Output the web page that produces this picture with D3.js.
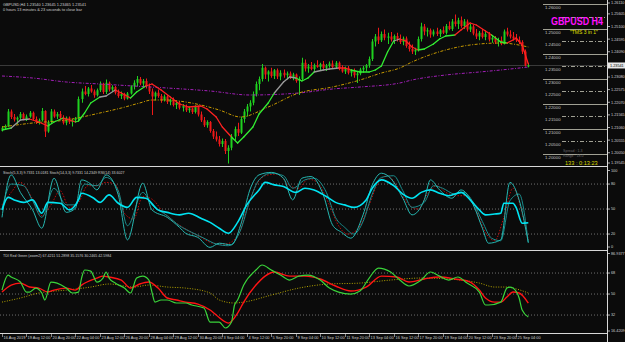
<!DOCTYPE html>
<html><head><meta charset="utf-8">
<script src="https://cdn.jsdelivr.net/npm/d3@7/dist/d3.min.js"></script>
<style>
body{margin:0;background:#0b0b0b;overflow:hidden;}
svg{display:block;font-family:"Liberation Sans",Arial,sans-serif;}
</style></head><body>
<svg id="chart" width="625" height="342"></svg>
<script>
// GBPUSD H4 bars, [open, high, low, close]
const candles = [
[1.2100,1.2112,1.2090,1.2105],[1.2105,1.2118,1.2098,1.2112],[1.2112,1.2180,1.2108,1.2170],[1.2170,1.2178,1.2140,1.2148],
[1.2148,1.2160,1.2130,1.2138],[1.2138,1.2150,1.2120,1.2145],[1.2145,1.2168,1.2140,1.2160],[1.2160,1.2166,1.2135,1.2140],
[1.2140,1.2158,1.2132,1.2150],[1.2150,1.2172,1.2145,1.2165],[1.2165,1.2170,1.2135,1.2140],[1.2140,1.2150,1.2120,1.2128],
[1.2128,1.2142,1.2118,1.2135],[1.2135,1.2184,1.2130,1.2172],[1.2172,1.2175,1.2068,1.2090],[1.2090,1.2135,1.2085,1.2128],
[1.2128,1.2180,1.2122,1.2170],[1.2170,1.2178,1.2145,1.2150],[1.2150,1.2168,1.2140,1.2160],[1.2160,1.2172,1.2140,1.2145],
[1.2145,1.2155,1.2118,1.2125],[1.2125,1.2150,1.2115,1.2145],[1.2145,1.2150,1.2120,1.2128],[1.2128,1.2140,1.2110,1.2135],
[1.2135,1.2148,1.2128,1.2140],[1.2140,1.2230,1.2136,1.2220],[1.2220,1.2262,1.2205,1.2250],[1.2250,1.2272,1.2235,1.2240],
[1.2240,1.2268,1.2230,1.2262],[1.2262,1.2276,1.2245,1.2250],[1.2250,1.2258,1.2225,1.2235],[1.2235,1.2262,1.2230,1.2255],
[1.2255,1.2290,1.2248,1.2280],[1.2280,1.2285,1.2240,1.2248],[1.2248,1.2298,1.2240,1.2285],[1.2285,1.2290,1.2250,1.2258],
[1.2258,1.2275,1.2250,1.2268],[1.2268,1.2272,1.2238,1.2245],[1.2245,1.2258,1.2225,1.2232],[1.2232,1.2250,1.2220,1.2240],
[1.2240,1.2245,1.2215,1.2222],[1.2222,1.2248,1.2218,1.2242],[1.2242,1.2275,1.2238,1.2270],[1.2270,1.2295,1.2258,1.2285],
[1.2285,1.2312,1.2270,1.2300],[1.2300,1.2308,1.2275,1.2282],[1.2282,1.2300,1.2268,1.2292],[1.2292,1.2302,1.2262,1.2270],
[1.2270,1.2282,1.2240,1.2250],[1.2250,1.2262,1.2156,1.2230],[1.2230,1.2250,1.2215,1.2245],[1.2245,1.2258,1.2225,1.2232],
[1.2232,1.2240,1.2205,1.2215],[1.2215,1.2238,1.2210,1.2230],[1.2230,1.2235,1.2200,1.2208],[1.2208,1.2222,1.2195,1.2215],
[1.2215,1.2226,1.2190,1.2196],[1.2196,1.2210,1.2180,1.2205],[1.2205,1.2212,1.2178,1.2185],[1.2185,1.2200,1.2170,1.2192],
[1.2192,1.2198,1.2168,1.2175],[1.2175,1.2190,1.2165,1.2182],[1.2182,1.2186,1.2160,1.2168],[1.2168,1.2195,1.2162,1.2188],
[1.2188,1.2194,1.2150,1.2158],[1.2158,1.2170,1.2128,1.2135],[1.2135,1.2148,1.2108,1.2115],[1.2115,1.2135,1.2105,1.2128],
[1.2128,1.2132,1.2085,1.2092],[1.2092,1.2100,1.2060,1.2070],[1.2070,1.2090,1.2050,1.2058],[1.2058,1.2072,1.2030,1.2040],
[1.2040,1.2062,1.2028,1.2052],[1.2052,1.2060,1.2000,1.2012],[1.2012,1.2035,1.1962,1.2025],[1.2025,1.2080,1.2015,1.2070],
[1.2070,1.2110,1.2055,1.2100],[1.2100,1.2125,1.2072,1.2085],[1.2085,1.2150,1.2080,1.2140],[1.2140,1.2180,1.2125,1.2170],
[1.2170,1.2200,1.2150,1.2190],[1.2190,1.2215,1.2170,1.2205],[1.2205,1.2250,1.2195,1.2240],[1.2240,1.2290,1.2230,1.2280],
[1.2280,1.2310,1.2255,1.2300],[1.2300,1.2360,1.2290,1.2345],[1.2345,1.2350,1.2300,1.2318],[1.2318,1.2335,1.2290,1.2330],
[1.2330,1.2345,1.2305,1.2312],[1.2312,1.2340,1.2300,1.2335],[1.2335,1.2342,1.2300,1.2310],[1.2310,1.2335,1.2295,1.2325],
[1.2325,1.2338,1.2305,1.2315],[1.2315,1.2330,1.2298,1.2322],[1.2322,1.2330,1.2300,1.2308],[1.2308,1.2325,1.2295,1.2318],
[1.2318,1.2322,1.2285,1.2292],[1.2292,1.2310,1.2236,1.2300],[1.2300,1.2385,1.2295,1.2365],[1.2365,1.2378,1.2330,1.2342],
[1.2342,1.2360,1.2325,1.2350],[1.2350,1.2368,1.2335,1.2340],[1.2340,1.2362,1.2330,1.2355],[1.2355,1.2375,1.2345,1.2348],
[1.2348,1.2365,1.2335,1.2360],[1.2360,1.2372,1.2340,1.2345],[1.2345,1.2360,1.2332,1.2352],[1.2352,1.2370,1.2345,1.2362],
[1.2362,1.2374,1.2340,1.2348],[1.2348,1.2372,1.2342,1.2365],[1.2365,1.2370,1.2335,1.2342],[1.2342,1.2355,1.2325,1.2330],
[1.2330,1.2350,1.2320,1.2345],[1.2345,1.2352,1.2318,1.2325],[1.2325,1.2340,1.2310,1.2335],[1.2335,1.2342,1.2305,1.2315],
[1.2315,1.2330,1.2284,1.2322],[1.2322,1.2345,1.2315,1.2338],[1.2338,1.2352,1.2325,1.2345],[1.2345,1.2360,1.2330,1.2355],
[1.2355,1.2390,1.2345,1.2380],[1.2380,1.2460,1.2372,1.2450],[1.2450,1.2480,1.2430,1.2470],[1.2470,1.2505,1.2440,1.2455],
[1.2455,1.2490,1.2448,1.2480],[1.2480,1.2498,1.2455,1.2465],[1.2465,1.2485,1.2440,1.2470],[1.2470,1.2488,1.2450,1.2458],
[1.2458,1.2478,1.2440,1.2472],[1.2472,1.2485,1.2450,1.2460],[1.2460,1.2478,1.2440,1.2448],[1.2448,1.2470,1.2435,1.2462],
[1.2462,1.2470,1.2425,1.2432],[1.2432,1.2450,1.2410,1.2420],[1.2420,1.2438,1.2400,1.2410],[1.2410,1.2425,1.2396,1.2418],
[1.2418,1.2470,1.2410,1.2460],[1.2460,1.2525,1.2450,1.2510],[1.2510,1.2520,1.2475,1.2490],[1.2490,1.2505,1.2470,1.2495],
[1.2495,1.2502,1.2465,1.2478],[1.2478,1.2498,1.2470,1.2490],[1.2490,1.2505,1.2472,1.2480],[1.2480,1.2500,1.2468,1.2495],
[1.2495,1.2510,1.2480,1.2485],[1.2485,1.2520,1.2478,1.2512],[1.2512,1.2530,1.2495,1.2500],[1.2500,1.2540,1.2492,1.2530],
[1.2530,1.2558,1.2510,1.2520],[1.2520,1.2545,1.2500,1.2535],[1.2535,1.2550,1.2505,1.2512],[1.2512,1.2540,1.2500,1.2530],
[1.2530,1.2538,1.2490,1.2498],[1.2498,1.2520,1.2488,1.2510],[1.2510,1.2518,1.2475,1.2482],[1.2482,1.2500,1.2460,1.2470],
[1.2470,1.2492,1.2455,1.2485],[1.2485,1.2500,1.2462,1.2468],[1.2468,1.2490,1.2455,1.2480],[1.2480,1.2488,1.2450,1.2458],
[1.2458,1.2475,1.2445,1.2465],[1.2465,1.2472,1.2440,1.2448],[1.2448,1.2465,1.2430,1.2455],[1.2455,1.2470,1.2435,1.2442],
[1.2442,1.2498,1.2438,1.2490],[1.2490,1.2505,1.2470,1.2478],[1.2478,1.2495,1.2462,1.2470],[1.2470,1.2488,1.2455,1.2462],
[1.2462,1.2480,1.2448,1.2455],[1.2455,1.2470,1.2440,1.2448],[1.2448,1.2455,1.2400,1.2410],[1.2410,1.2418,1.2350,1.2354],
[1.23540,1.23645,1.23465,1.23541]
];

// colored trend MA: [bar, price, g/r/n]
const maTrend = [
[0,1.2096,'g'],[3,1.2104,'g'],[6,1.2136,'n'],[9,1.2140,'n'],[12,1.2128,'r'],[15,1.2112,'r'],[17,1.2128,'g'],[20,1.2144,'g'],
[21,1.2140,'r'],[24,1.2128,'r'],[25,1.2132,'g'],[27,1.2164,'g'],[29,1.2204,'g'],[32,1.2228,'g'],[34,1.2232,'n'],[37,1.2256,'n'],
[39,1.2244,'r'],[42,1.2224,'r'],[44,1.2248,'g'],[47,1.2272,'g'],[49,1.2280,'r'],[52,1.2256,'r'],[55,1.2228,'r'],[58,1.2200,'r'],
[61,1.2188,'r'],[65,1.2192,'r'],[67,1.2180,'r'],[70,1.2148,'r'],[72,1.2108,'r'],[75,1.2068,'r'],[77,1.2044,'g'],[79,1.2068,'g'],
[82,1.2108,'g'],[84,1.2160,'g'],[87,1.2204,'g'],[89,1.2244,'g'],[92,1.2288,'n'],[94,1.2308,'n'],[96,1.2304,'n'],[98,1.2292,'g'],
[100,1.2304,'g'],[102,1.2328,'g'],[105,1.2336,'n'],[107,1.2340,'n'],[110,1.2344,'n'],[112,1.2344,'r'],[114,1.2336,'r'],[117,1.2328,'g'],
[120,1.2328,'g'],[122,1.2336,'g'],[124,1.2352,'g'],[126,1.2408,'g'],[128,1.2452,'g'],[130,1.2460,'n'],[132,1.2452,'r'],[134,1.2428,'r'],
[136,1.2416,'r'],[138,1.2420,'g'],[141,1.2440,'g'],[143,1.2460,'g'],[145,1.2472,'g'],[148,1.2476,'g'],[150,1.2496,'r'],[153,1.2524,'r'],
[155,1.2516,'r'],[158,1.2492,'r'],[160,1.2476,'r'],[163,1.2448,'g'],[165,1.2444,'g'],[167,1.2456,'r'],[168,1.2464,'r'],[170,1.2436,'r'],
[172,1.2360,'r']
];
const maGold = [
[0,1.2108],[10,1.2124],[21,1.2136],[32,1.2164],[39,1.2184],[45,1.2204],[49,1.2216],[54,1.2216],[60,1.2208],[65,1.2196],
[71,1.2176],[78,1.2148],[87,1.2188],[97,1.2244],[108,1.2268],[117,1.2296],[124,1.2324],[130,1.2344],[134,1.2368],[145,1.2416],
[153,1.2436],[163,1.2444],[172,1.2428]
];
const maPurple = [
[0,1.2312],[10,1.2304],[21,1.2288],[32,1.2280],[43,1.2272],[54,1.2264],[68,1.2252],[81,1.2236],[97,1.2244],[108,1.2260],
[117,1.2268],[130,1.2284],[134,1.2296],[145,1.2316],[156,1.2328],[163,1.2336],[172,1.2348]
];
const lastPrice = 1.23541;
const priceTicks = [1.26110,1.25605,1.25100,1.24595,1.24090,1.23080,1.22575,1.22070,1.21565,1.21060,1.20555,1.20050,1.19545];
const roundLevels = [1.260,1.255,1.250,1.245,1.240,1.235,1.230,1.225,1.220,1.215,1.210,1.205,1.200];
const hiddenLevelLabels = [1.255]; // covered by the symbol caption

// stochastic / RSI window: [bar, value]
const stochFast = [
[0,40],[3,91],[6,70],[10,49],[13,27],[17,87],[21,46],[24,51],[26,85],[29,80],[31,73],[34,91],[38,67],[41,13],[46,81],[49,49],
[54,40],[58,28],[60,21],[64,16],[68,4],[71,9],[75,7],[78,31],[81,73],[84,91],[88,94],[92,87],[95,61],[98,87],[101,89],[105,67],
[108,31],[111,22],[114,15],[118,43],[121,79],[124,93],[127,87],[131,63],[134,43],[138,61],[140,85],[143,73],[147,63],[150,73],
[154,55],[157,27],[159,9],[163,13],[166,82],[169,61],[172,9.7]
];
const stochSlow = [
[0,50],[3,80],[7,78],[10,60],[13,40],[17,75],[21,55],[24,55],[27,80],[31,78],[34,88],[38,72],[41,30],[46,70],[49,55],[54,42],
[58,30],[62,22],[66,15],[70,8],[74,6],[78,25],[81,60],[84,85],[88,93],[92,90],[95,75],[99,85],[102,87],[106,70],[109,40],[112,28],
[115,20],[118,35],[121,68],[124,88],[128,90],[131,72],[134,52],[138,58],[141,78],[144,75],[148,68],[151,70],[154,58],[157,35],
[160,15],[163,12],[166,60],[169,68],[172,9.7]
];
const stochSignal = [
[0,55],[3,70],[6,82],[10,62],[13,42],[16,55],[19,72],[22,52],[25,58],[28,78],[31,78],[34,82],[37,80],[40,45],[43,38],[46,65],
[49,62],[53,45],[57,33],[61,24],[65,16],[69,9],[73,8],[77,18],[80,50],[83,78],[86,90],[90,92],[94,78],[97,75],[100,86],[103,82],
[107,55],[110,30],[113,20],[116,25],[120,55],[123,82],[126,90],[129,78],[133,55],[136,50],[139,68],[142,78],[145,70],[149,66],
[152,66],[155,48],[158,22],[161,12],[164,40],[167,75],[170,45],[172,13]
];
const rsi = [
[0,49],[2,64],[4,61],[7,58],[10,61],[13,45],[15,58],[19,57],[22,49],[25,61],[26,69],[30,63],[32,58],[35,67],[38,57],[41,52],
[44,64],[47,63],[51,49],[54,46],[58,43],[61,45],[65,39],[68,34],[71,27],[74,21],[77,34],[80,55],[84,73],[86,82],[89,79],[92,77],
[96,70],[99,75],[102,73],[106,65],[109,58],[112,55],[115,52],[119,61],[121,75],[124,85],[128,78],[131,68],[134,63],[137,70],
[140,73],[143,69],[146,66],[150,70],[153,61],[156,49],[158,43],[161,44],[163,45],[164,57],[167,57],[168,52],[170,33],[172,33.6]
];
const stochLevels = [80,50,20];
const stochTicks = [100,80,50,20,0];

// TDI window: [bar, value]
const tdiGreen = [
[0,53.4],[2,66.3],[3,64.6],[6,60.3],[8,51.7],[9,51.7],[11,55.1],[13,50.9],[14,44.9],[16,60.3],[18,59.4],[21,55.1],[23,50.9],
[25,51.7],[26,63.7],[27,70.6],[29,69.7],[31,60.3],[33,63.7],[34,68.9],[35,63.7],[37,59.4],[40,55.1],[42,50.9],[44,63.7],[46,65.4],
[48,62],[49,51.7],[50,43.1],[52,44.9],[54,44.9],[57,42.3],[60,42.3],[62,40.6],[66,38],[68,26],[71,26],[73,20.9],[75,26],[76,40.6],
[77,44.9],[79,57.7],[83,70.6],[85,74.9],[88,70.6],[91,66.3],[94,62],[97,65.4],[100,66.3],[104,62],[107,55.1],[110,51.7],[114,50],
[117,52.6],[120,63.7],[123,72.3],[127,68.9],[130,62],[133,56.9],[137,62],[140,68.9],[143,65.4],[146,62],[149,64.6],[152,59.4],
[156,51.7],[158,40.6],[159,40.6],[163,43.1],[165,55.1],[166,56],[167,55.1],[169,46.6],[170,36.3],[172,30.3]
];
const tdiRed = [
[0,51.7],[3,57.7],[6,59.4],[9,56],[12,55.1],[15,51.7],[17,53.4],[21,55.1],[24,53.4],[26,57.7],[31,63.7],[33,65.4],[35,64.6],
[39,62],[42,55.1],[45,58.6],[48,60.3],[51,55.1],[54,46.6],[57,44.9],[60,43.1],[64,41.4],[68,36.3],[70,32],[74,25.1],[77,33.7],
[79,43.1],[83,57.7],[86,65.4],[89,68.9],[94,65.4],[99,65.4],[104,62.9],[109,56.9],[114,52.6],[119,56],[124,65.4],[129,64.6],
[133,60.3],[138,62.9],[143,64.6],[148,62.9],[153,60.3],[156,53.4],[158,46.6],[161,43.1],[163,43.1],[165,47.4],[167,51.7],
[169,50.9],[172,42.3]
];
const tdiYellow = [
[0,43.1],[6,46.6],[12,50.9],[21,53.4],[29,56],[35,58.6],[43,56],[48,57.7],[54,56],[60,55.1],[68,50.9],[71,44.9],[76,42.3],
[79,43.1],[88,49.1],[97,55.1],[107,58.6],[117,59.4],[127,62],[137,63.7],[146,62.9],[156,59.4],[161,56],[165,56],[167,55.1],[172,50.9]
];
const tdiLevels = [68,50,32];
const tdiTicks = [["86.9377",86.9],["68",68],["50",50],["32",32],["16.4209",16.6]];

const timeLabels = ["16 Aug 2019","19 Aug 12:00","20 Aug 20:00","22 Aug 04:00","23 Aug 12:00","26 Aug 20:00",
"28 Aug 04:00","29 Aug 12:00","30 Aug 20:00","3 Sep 04:00","4 Sep 12:00","5 Sep 20:00","9 Sep 04:00",
"10 Sep 12:00","11 Sep 20:00","13 Sep 04:00","16 Sep 12:00","17 Sep 20:00","19 Sep 04:00","20 Sep 12:00",
"23 Sep 20:00","25 Sep 04:00"];
const barsPerLabel = 8;

const W = 625, H = 342, axisX = 607.5;
const svg = d3.select("#chart");
svg.append("rect").attr("width", W).attr("height", H).attr("fill", "#0b0b0b");

const x = d3.scaleLinear().domain([0, 172]).range([2, 528.3]);
const yMain = d3.scaleLinear().domain([1.1952, 1.2616]).range([166, 0]);
const yStoch = d3.scaleLinear().domain([0, 100]).range([250.7, 167.4]);
const yTdi = d3.scaleLinear().domain([16.6, 86.9]).range([333, 251]);

function clip(id, y0, y1){
	svg.append("clipPath").attr("id", id).append("rect")
	.attr("x", 0).attr("y", y0).attr("width", axisX).attr("height", y1 - y0);
	return svg.append("g").attr("clip-path", "url(#" + id + ")");
}
const gMain = clip("cm", 0, 166);
const gSt = clip("cs", 167.5, 250);
const gTd = clip("ct", 251, 333);

const fmt5 = d3.format(".5f");
const textCol = "#d0d0d0";

// ---- main window ----
gMain.append("line").attr("x1", 0).attr("x2", axisX)
.attr("y1", yMain(lastPrice)).attr("y2", yMain(lastPrice))
.attr("stroke", "#3c3c3c").attr("stroke-width", 1);

roundLevels.forEach(function(p){
	const whole = Math.abs(p*100 - Math.round(p*100)) < 1e-6;
	const yy = Math.round(yMain(p)) + 0.5;
	gMain.append("line").attr("x1", whole ? 543 : 562).attr("x2", axisX)
	.attr("y1", yy).attr("y2", yy)
	.attr("stroke", "#c8c8b8").attr("stroke-width", 0.8)
	.attr("stroke-dasharray", whole ? null : "4,2,1,2");
	if(hiddenLevelLabels.indexOf(p) < 0)
		gMain.append("text").attr("x", 545).attr("y", yy + 4.2)
		.attr("fill", "#c8c8c8").attr("font-size", 4.3).text(fmt5(p));
});

gMain.selectAll(".wick").data(candles).enter().append("line")
.attr("x1", (d,i) => Math.round(x(i)) + 0.5).attr("x2", (d,i) => Math.round(x(i)) + 0.5)
.attr("y1", d => yMain(d[1])).attr("y2", d => yMain(d[2]))
.attr("stroke", d => d[3] >= d[0] ? "#1fd11f" : "#f01818").attr("stroke-width", 1);
gMain.selectAll(".body").data(candles).enter().append("rect")
.attr("x", (d,i) => Math.round(x(i)) - 0.5).attr("width", 2)
.attr("y", d => yMain(Math.max(d[0], d[3])))
.attr("height", d => Math.max(1, Math.abs(yMain(d[0]) - yMain(d[3]))))
.attr("fill", d => d[3] >= d[0] ? "#1fd11f" : "#f01818");

const lineMain = d3.line().x(d => x(d[0])).y(d => yMain(d[1])).curve(d3.curveMonotoneX);
gMain.append("path").attr("d", lineMain(maPurple)).attr("fill", "none")
.attr("stroke", "#a21fb8").attr("stroke-width", 1).attr("stroke-dasharray", "3,1.5,1,1.5");
gMain.append("path").attr("d", lineMain(maGold)).attr("fill", "none")
.attr("stroke", "#c89a00").attr("stroke-width", 1).attr("stroke-dasharray", "3,1.5,1,1.5");

const trendCol = {g: "#33ee33", r: "#ff2222", n: "#9a9a9a"};
for(let k=1; k<maTrend.length; k++){
	const a = maTrend[k-1], b = maTrend[k];
	gMain.append("line").attr("x1", x(a[0])).attr("y1", yMain(a[1]))
	.attr("x2", x(b[0])).attr("y2", yMain(b[1]))
	.attr("stroke", trendCol[b[2]]).attr("stroke-width", 1.3).attr("stroke-linecap", "round");
}

// ---- stochastic window ----
stochLevels.forEach(function(v){
	gSt.append("line").attr("x1", 0).attr("x2", axisX).attr("y1", yStoch(v)).attr("y2", yStoch(v))
	.attr("stroke", "#8a8a8a").attr("stroke-width", 0.8).attr("stroke-dasharray", "1,2");
});
const lineSt = d3.line().x(d => x(d[0])).y(d => yStoch(d[1])).curve(d3.curveMonotoneX);
gSt.append("path").attr("d", lineSt(stochSignal)).attr("fill", "none")
.attr("stroke", "#c00c0c").attr("stroke-width", 1).attr("stroke-dasharray", "1.5,1.5");
gSt.append("path").attr("d", lineSt(stochSlow)).attr("fill", "none")
.attr("stroke", "#1b8c8c").attr("stroke-width", 1);
gSt.append("path").attr("d", lineSt(stochFast)).attr("fill", "none")
.attr("stroke", "#26b6b0").attr("stroke-width", 1);
gSt.append("path").attr("d", lineSt(rsi)).attr("fill", "none")
.attr("stroke", "#00e4f2").attr("stroke-width", 1.6);

// ---- TDI window ----
tdiLevels.forEach(function(v){
	gTd.append("line").attr("x1", 0).attr("x2", axisX).attr("y1", yTdi(v)).attr("y2", yTdi(v))
	.attr("stroke", "#8a8a8a").attr("stroke-width", 0.8).attr("stroke-dasharray", "1,2");
});
const lineTd = d3.line().x(d => x(d[0])).y(d => yTdi(d[1])).curve(d3.curveMonotoneX);
gTd.append("path").attr("d", lineTd(tdiYellow)).attr("fill", "none")
.attr("stroke", "#b4a400").attr("stroke-width", 1).attr("stroke-dasharray", "1,1.5");
gTd.append("path").attr("d", lineTd(tdiRed)).attr("fill", "none")
.attr("stroke", "#ff1414").attr("stroke-width", 1.4);
gTd.append("path").attr("d", lineTd(tdiGreen)).attr("fill", "none")
.attr("stroke", "#3ad43a").attr("stroke-width", 1.2);

// ---- frame ----
[166.5, 250.5, 333.5].forEach(function(yy){
	svg.append("line").attr("x1", 0).attr("x2", axisX).attr("y1", yy).attr("y2", yy)
	.attr("stroke", "#d8d8d8").attr("stroke-width", 1);
});
svg.append("line").attr("x1", axisX).attr("x2", axisX).attr("y1", 0).attr("y2", 342)
.attr("stroke", "#d8d8d8").attr("stroke-width", 1);

// ---- right axes ----
const axisFont = 3.8;
function rightLabel(yy, txt){
	svg.append("line").attr("x1", axisX).attr("x2", axisX + 2.5).attr("y1", yy).attr("y2", yy)
	.attr("stroke", "#d8d8d8").attr("stroke-width", 0.8);
	svg.append("text").attr("x", 611).attr("y", yy + 1.4).attr("fill", textCol)
	.attr("font-size", axisFont).text(txt);
}
priceTicks.forEach(p => rightLabel(Math.min(163, Math.max(3, yMain(p))), fmt5(p)));
const lp = yMain(lastPrice);
svg.append("rect").attr("x", 608).attr("y", lp - 3).attr("width", 17).attr("height", 6).attr("fill", "#e8e8e8");
svg.append("text").attr("x", 610).attr("y", lp + 1.5).attr("fill", "#000").attr("font-size", axisFont).text(fmt5(lastPrice));
stochTicks.forEach(v => rightLabel(Math.min(247, Math.max(170.5, yStoch(v))), String(v)));
tdiTicks.forEach(t => rightLabel(Math.min(331, Math.max(253.5, yTdi(t[1]))), t[0]));

// ---- time axis ----
timeLabels.forEach(function(t, k){
	const xx = Math.round(x(k * barsPerLabel)) + 0.5;
	svg.append("line").attr("x1", xx).attr("x2", xx).attr("y1", 333).attr("y2", 337)
	.attr("stroke", "#d8d8d8").attr("stroke-width", 0.6);
	svg.append("text").attr("x", xx + 1).attr("y", 339).attr("fill", textCol)
	.attr("font-size", 3.9).text(t);
});

// ---- texts ----
function txt(xx, yy, s, size, col, extra){
	const t = svg.append("text").attr("x", xx).attr("y", yy).attr("fill", col).attr("font-size", size).text(s);
	if(extra) extra(t);
	return t;
}
txt(3, 6, "GBPUSD,H4  1.23540 1.23645 1.23465 1.23541", 3.9, textCol);
txt(3, 10.5, "0 hours 13 minutes & 23 seconds to close bar", 3.9, textCol);
txt(3, 173.5, "Stoch(5,3,3) 9.7331 13.0181   Stoch(14,3,3) 9.7331 14.2349   RSI(14) 33.6027", 3.6, textCol);
txt(3, 257, "TDI Red Green (zoom2) 67.4211 51.2898 35.1576 30.2465 42.5984", 3.6, textCol);
txt(551, 25, "GBPUSD H4", 10, "#ff10ff", t => t.attr("font-weight", "bold")
	.attr("textLength", 52).attr("lengthAdjust", "spacingAndGlyphs"));
txt(570, 34, "\"TMS 3 in 1\"", 5, "#e0e000");
txt(563, 152, "Spread : 1.3", 3.6, "#6a6a6a");
txt(563, 157, "Range : 18.0", 3.6, "#6a6a6a");
txt(565, 164.5, "133 : 0:13:23", 5.6, "#d8d800");
</script></body></html>
